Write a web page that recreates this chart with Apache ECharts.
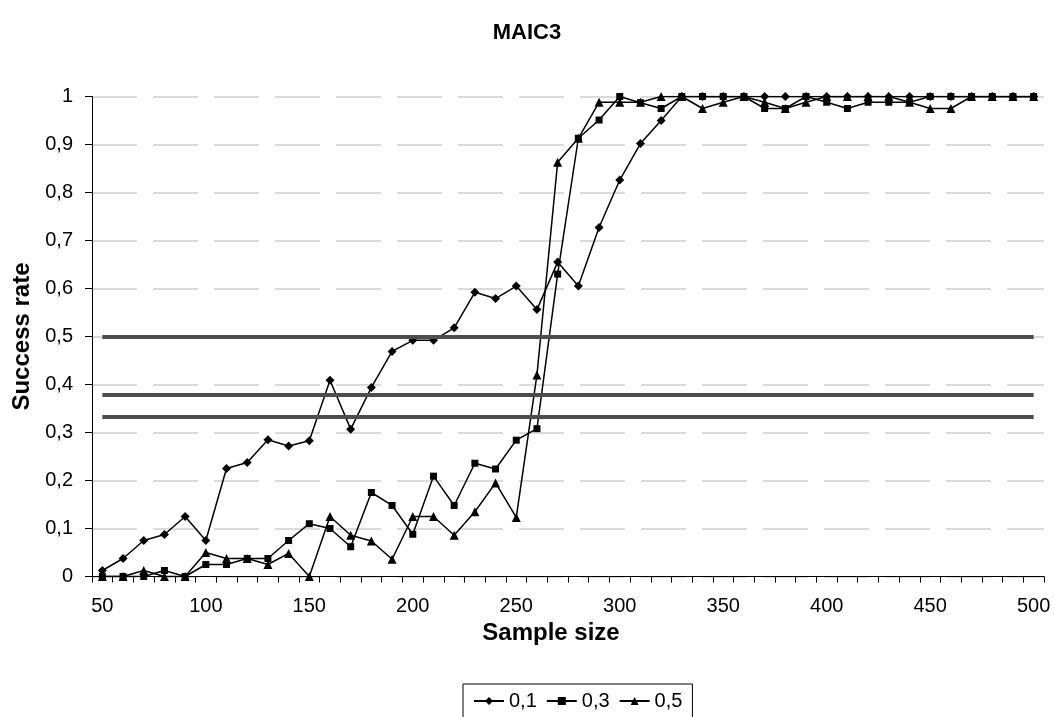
<!DOCTYPE html>
<html>
<head>
<meta charset="utf-8">
<script src="https://cdn.jsdelivr.net/npm/echarts@6/dist/echarts.min.js"></script>
<style>
html,body{margin:0;padding:0;background:#fff;}
#chart{width:1054px;height:717px;}
</style>
</head>
<body>
<div id="chart"></div>
<script>
var titleText = 'MAIC3';
var sampleSizes = ['50','60','70','80','90','100','110','120','130','140','150','160','170','180','190','200','210','220','230','240','250','260','270','280','290','300','310','320','330','340','350','360','370','380','390','400','410','420','430','440','450','460','470','480','490','500'];
var seriesNames = ['0,1', '0,3', '0,5'];
var s01 = [0.0125,0.0375,0.075,0.0875,0.125,0.075,0.225,0.2375,0.285,0.272,0.283,0.409,0.307,0.394,0.469,0.492,0.492,0.518,0.592,0.579,0.605,0.556,0.655,0.605,0.727,0.826,0.902,0.95,1,1,1,1,1,1,1,1,1,1,1,1,1,1,1,1,1,1];
var s03 = [0,0,0,0.0125,0,0.025,0.025,0.0375,0.0375,0.075,0.11,0.1,0.062,0.175,0.148,0.088,0.209,0.148,0.236,0.224,0.284,0.308,0.63,0.913,0.951,1,0.987,0.975,1,1,1,1,0.975,0.975,1,0.988,0.975,0.988,0.988,0.988,1,1,1,1,1,1];
var s05 = [0,0,0.0125,0,0,0.05,0.0375,0.0375,0.025,0.048,0,0.125,0.086,0.074,0.036,0.125,0.125,0.086,0.135,0.195,0.123,0.42,0.863,0.913,0.988,0.988,0.988,1,1,0.975,0.988,1,0.988,0.975,0.988,1,1,1,1,0.988,0.975,0.975,1,1,1,1];
var thresholds = [0.5, 0.378, 0.333];
var xTitle = 'Sample size';
var yTitle = 'Success rate';

var FONT = '"Liberation Sans", Arial, sans-serif';
var chart = echarts.init(document.getElementById('chart'), null, {renderer:'canvas'});

var lastIdx = sampleSizes.length - 1;
var thresholdLines = thresholds.map(function(v){
  return [{coord:[0, v]}, {coord:[lastIdx, v]}];
});

function mk(name, data, symbol, size, extra) {
  var s = {
    name: name, type: 'line', data: data,
    symbol: symbol, symbolSize: size,
    showAllSymbol: true,
    lineStyle: {color:'#000', width:1.5},
    itemStyle: {color:'#000'},
    animation: false, z: 3
  };
  if (extra) Object.assign(s, extra);
  return s;
}

var option = {
  backgroundColor: '#fff',
  animation: false,
  title: {
    text: titleText, left: 'center', top: 17,
    textStyle: {fontFamily: FONT, fontSize: 22, fontWeight: 'bold', color: '#000'}
  },
  grid: {left: 92, right: 10, top: 96.5, bottom: 140.5, containLabel: false},
  legend: {
    data: seriesNames,
    top: 684, left: 463,
    borderColor: '#000', borderWidth: 1,
    padding: [7, 10, 20, 10],
    itemWidth: 30, itemHeight: 10, itemGap: 9,
    textStyle: {fontFamily: FONT, fontSize: 20, color: '#000'}
  },
  xAxis: {
    type: 'category', data: sampleSizes, boundaryGap: true,
    name: xTitle, nameLocation: 'middle', nameGap: 30,
    nameTextStyle: {fontFamily: FONT, fontSize: 24, fontWeight: 'bold', color: '#000', padding: [0, 34, 0, 0]},
    axisLine: {lineStyle: {color: '#000', width: 1}},
    axisTick: {show: true, interval: 0, length: 6, lineStyle: {color:'#000'}},
    axisLabel: {interval: 4, margin: 20, fontFamily: FONT, fontSize: 20, color: '#000'},
    splitLine: {show: false}
  },
  yAxis: {
    type: 'value', min: 0, max: 1, interval: 0.1,
    name: yTitle, nameLocation: 'middle', nameGap: 55,
    nameTextStyle: {fontFamily: FONT, fontSize: 24, fontWeight: 'bold', color: '#000'},
    axisLine: {show: true, lineStyle: {color: '#000', width: 1}},
    axisTick: {show: true, length: 7, lineStyle: {color:'#000'}},
    axisLabel: {margin: 19, fontFamily: FONT, fontSize: 20, color: '#000',
      formatter: function(v){ return String(Math.round(v*10)/10).replace('.', ','); }},
    splitLine: {show: true, lineStyle: {color: '#cfcfcf', width: 1.5, type: [45, 16]}}
  },
  series: [
    mk(seriesNames[0], s01, 'diamond', 9, {
      markLine: {
        silent: true, symbol: ['none','none'], label: {show:false},
        lineStyle: {color: '#4d4d4d', width: 4, type: 'solid'},
        data: thresholdLines, animation: false
      }
    }),
    mk(seriesNames[1], s03, 'rect', 7),
    mk(seriesNames[2], s05, 'triangle', 9)
  ]
};
chart.setOption(option);
</script>
</body>
</html>
